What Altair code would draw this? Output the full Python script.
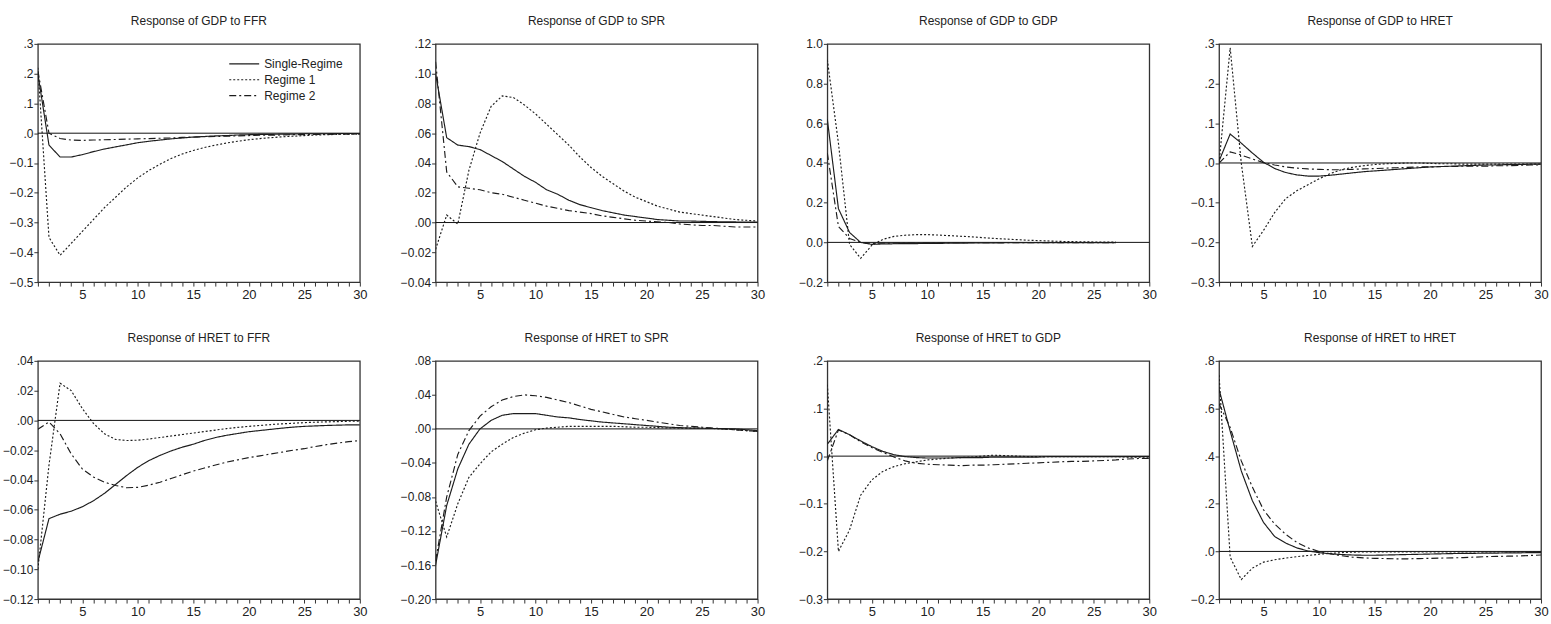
import altair as alt
import pandas as pd

FONT = "Liberation Sans"
regimes = ["Single-Regime", "Regime 1", "Regime 2"]
dash_range = [[1, 0], [2, 2], [7, 3, 2, 3]]

titles = [
    "Response of GDP to FFR", "Response of GDP to SPR",
    "Response of GDP to GDP", "Response of GDP to HRET",
    "Response of HRET to FFR", "Response of HRET to SPR",
    "Response of HRET to GDP", "Response of HRET to HRET",
]

# y tick values per panel
yticks = [
    [-0.5, -0.4, -0.3, -0.2, -0.1, 0.0, 0.1, 0.2, 0.3],
    [-0.04, -0.02, 0.0, 0.02, 0.04, 0.06, 0.08, 0.10, 0.12],
    [-0.2, 0.0, 0.2, 0.4, 0.6, 0.8, 1.0],
    [-0.3, -0.2, -0.1, 0.0, 0.1, 0.2, 0.3],
    [-0.12, -0.10, -0.08, -0.06, -0.04, -0.02, 0.0, 0.02, 0.04],
    [-0.20, -0.16, -0.12, -0.08, -0.04, 0.0, 0.04, 0.08],
    [-0.3, -0.2, -0.1, 0.0, 0.1, 0.2],
    [-0.2, 0.0, 0.2, 0.4, 0.6, 0.8],
]
ydecimals = [1, 2, 1, 1, 2, 2, 1, 1]
strip_zero = [True, True, False, True, True, True, True, True]

# ---- Response of GDP to FFR
gdp_ffr_single = [0.20, -0.04, -0.08, -0.080, -0.072, -0.062, -0.053, -0.046, -0.039, -0.032,
                  -0.027, -0.023, -0.019, -0.016, -0.013, -0.011, -0.009, -0.008, -0.006, -0.005,
                  -0.004, -0.004, -0.003, -0.003, -0.002, -0.002, -0.002, -0.001, -0.001, -0.001]
gdp_ffr_r1 = [0.22, -0.35, -0.41, -0.37, -0.33, -0.29, -0.25, -0.215, -0.18, -0.15,
              -0.125, -0.104, -0.085, -0.070, -0.058, -0.048, -0.040, -0.033, -0.027, -0.022,
              -0.018, -0.015, -0.012, -0.010, -0.008, -0.006, -0.005, -0.004, -0.003, -0.003]
gdp_ffr_r2 = [0.21, 0.00, -0.018, -0.023, -0.024, -0.023, -0.022, -0.021, -0.020, -0.019,
              -0.018, -0.017, -0.016, -0.014, -0.013, -0.012, -0.011, -0.010, -0.009, -0.008,
              -0.007, -0.007, -0.006, -0.005, -0.005, -0.004, -0.004, -0.003, -0.003, -0.003]

# ---- Response of GDP to SPR
gdp_spr_single = [0.100, 0.057, 0.052, 0.051, 0.049, 0.045, 0.041, 0.036, 0.031, 0.027,
                  0.022, 0.019, 0.015, 0.012, 0.010, 0.008, 0.0065, 0.005, 0.004, 0.003,
                  0.002, 0.0015, 0.001, 0.001, 0.0008, 0.0006, 0.0005, 0.0004, 0.0003, 0.0003]
gdp_spr_r1 = [-0.018, 0.005, -0.001, 0.035, 0.060, 0.078, 0.085, 0.084, 0.079, 0.073,
              0.066, 0.059, 0.052, 0.044, 0.037, 0.031, 0.026, 0.021, 0.017, 0.014,
              0.011, 0.009, 0.007, 0.006, 0.005, 0.004, 0.003, 0.002, 0.0015, 0.001]
gdp_spr_r2 = [0.108, 0.034, 0.024, 0.023, 0.022, 0.020, 0.019, 0.017, 0.015, 0.013,
              0.011, 0.0095, 0.008, 0.007, 0.006, 0.0045, 0.0035, 0.0025, 0.0015, 0.001,
              0.0005, 0.0, -0.001, -0.0015, -0.002, -0.002, -0.0025, -0.003, -0.003, -0.003]

# ---- Response of GDP to GDP (27 horizons drawn)
gdp_gdp_single = [0.62, 0.17, 0.05, 0.0, -0.010, -0.008, -0.007, -0.006, -0.006, -0.005,
                  -0.005, -0.004, -0.004, -0.003, -0.003, -0.003, -0.002, -0.002, -0.002, -0.002,
                  -0.001, -0.001, -0.001, -0.001, -0.001, -0.001, -0.001]
gdp_gdp_r1 = [0.92, 0.50, -0.01, -0.08, -0.015, 0.015, 0.030, 0.036, 0.039, 0.039,
              0.037, 0.034, 0.031, 0.028, 0.024, 0.020, 0.017, 0.014, 0.011, 0.009,
              0.007, 0.005, 0.004, 0.003, 0.002, 0.001, 0.001]
gdp_gdp_r2 = [0.45, 0.08, 0.02, 0.0, -0.005, -0.004, -0.004, -0.003, -0.003, -0.003,
              -0.003, -0.002, -0.002, -0.002, -0.002, -0.002, -0.001, -0.001, -0.001, -0.001,
              -0.001, -0.001, -0.001, -0.001, -0.001, -0.001, -0.001]

# ---- Response of GDP to HRET
gdp_hret_single = [0.005, 0.073, 0.050, 0.025, 0.002, -0.014, -0.024, -0.030, -0.033, -0.033,
                   -0.031, -0.028, -0.025, -0.022, -0.020, -0.018, -0.016, -0.014, -0.012, -0.010,
                   -0.009, -0.008, -0.007, -0.006, -0.005, -0.005, -0.004, -0.004, -0.003, -0.003]
gdp_hret_r1 = [0.0, 0.29, 0.0, -0.21, -0.17, -0.125, -0.09, -0.07, -0.055, -0.04,
               -0.027, -0.017, -0.011, -0.007, -0.004, -0.002, -0.001, 0.0, 0.0, -0.001,
               -0.002, -0.002, -0.003, -0.003, -0.003, -0.003, -0.003, -0.003, -0.003, -0.003]
gdp_hret_r2 = [0.0, 0.028, 0.020, 0.010, 0.001, -0.005, -0.010, -0.013, -0.015, -0.016,
               -0.017, -0.017, -0.016, -0.015, -0.014, -0.013, -0.012, -0.011, -0.010, -0.010,
               -0.009, -0.009, -0.008, -0.008, -0.008, -0.007, -0.007, -0.006, -0.005, -0.005]

# ---- Response of HRET to FFR
hret_ffr_single = [-0.095, -0.066, -0.063, -0.061, -0.058, -0.054, -0.049, -0.043, -0.037, -0.0315,
                   -0.027, -0.0235, -0.0205, -0.018, -0.016, -0.0135, -0.0115, -0.010, -0.0088, -0.0076,
                   -0.0068, -0.006, -0.0052, -0.0045, -0.004, -0.0037, -0.0034, -0.0032, -0.003, -0.003]
hret_ffr_r1 = [-0.100, -0.030, 0.025, 0.020, 0.008, -0.002, -0.009, -0.0128, -0.0135, -0.0133,
               -0.0125, -0.0115, -0.0105, -0.0095, -0.0085, -0.0075, -0.0065, -0.0055, -0.0047, -0.004,
               -0.0034, -0.0028, -0.0023, -0.0019, -0.0015, -0.0012, -0.001, -0.0008, -0.0006, -0.0005]
hret_ffr_r2 = [-0.006, -0.001, -0.009, -0.0225, -0.0326, -0.038, -0.0415, -0.0437, -0.0452, -0.045,
               -0.0435, -0.0415, -0.039, -0.0365, -0.034, -0.032, -0.030, -0.028, -0.0265, -0.025,
               -0.0238, -0.0225, -0.0213, -0.020, -0.019, -0.0175, -0.0163, -0.0152, -0.0143, -0.0135]

# ---- Response of HRET to SPR
hret_spr_single = [-0.160, -0.090, -0.047, -0.018, 0.000, 0.010, 0.016, 0.018, 0.018, 0.018,
                   0.016, 0.014, 0.013, 0.011, 0.0095, 0.008, 0.007, 0.006, 0.005, 0.004,
                   0.003, 0.002, 0.0015, 0.001, 0.0008, 0.0005, 0.0003, 0.0, -0.001, -0.002]
hret_spr_r1 = [-0.085, -0.127, -0.088, -0.057, -0.041, -0.027, -0.018, -0.010, -0.005, -0.001,
               0.001, 0.002, 0.003, 0.003, 0.003, 0.003, 0.003, 0.0025, 0.002, 0.002,
               0.0015, 0.0012, 0.001, 0.001, 0.0008, 0.0005, 0.0, -0.001, -0.002, -0.003]
hret_spr_r2 = [-0.155, -0.080, -0.030, -0.002, 0.015, 0.026, 0.034, 0.038, 0.040, 0.039,
               0.037, 0.034, 0.031, 0.027, 0.023, 0.020, 0.017, 0.014, 0.012, 0.010,
               0.008, 0.006, 0.004, 0.003, 0.002, 0.001, 0.0, -0.001, -0.002, -0.003]

# ---- Response of HRET to GDP
hret_gdp_single = [0.025, 0.056, 0.045, 0.032, 0.020, 0.010, 0.003, -0.001, -0.003, -0.004,
                   -0.004, -0.004, -0.003, -0.003, -0.003, -0.002, -0.002, -0.002, -0.002, -0.002,
                   -0.001, -0.001, -0.001, -0.001, -0.001, -0.001, -0.001, -0.001, -0.001, -0.001]
hret_gdp_r1 = [0.150, -0.200, -0.155, -0.082, -0.050, -0.032, -0.022, -0.016, -0.012, -0.008,
               -0.006, -0.004, -0.003, -0.002, 0.000, 0.002, 0.001, 0.000, -0.001, -0.001,
               -0.001, -0.001, -0.001, -0.001, -0.001, -0.001, -0.001, -0.002, -0.002, -0.002]
hret_gdp_r2 = [-0.010, 0.055, 0.045, 0.030, 0.018, 0.008, -0.002, -0.010, -0.015, -0.017,
               -0.018, -0.019, -0.020, -0.019, -0.019, -0.018, -0.017, -0.016, -0.015, -0.014,
               -0.013, -0.012, -0.011, -0.011, -0.010, -0.009, -0.008, -0.006, -0.005, -0.005]

# ---- Response of HRET to HRET
hret_hret_single = [0.68, 0.505, 0.338, 0.213, 0.122, 0.063, 0.035, 0.015, 0.002, -0.005,
                    -0.010, -0.013, -0.015, -0.016, -0.016, -0.015, -0.014, -0.013, -0.012, -0.011,
                    -0.010, -0.009, -0.008, -0.008, -0.007, -0.007, -0.006, -0.006, -0.005, -0.005]
hret_hret_r1 = [0.74, -0.024, -0.118, -0.070, -0.045, -0.035, -0.028, -0.022, -0.017, -0.012,
                -0.008, -0.005, -0.003, -0.002, -0.002, -0.002, -0.002, -0.002, -0.002, -0.002,
                -0.002, -0.002, -0.002, -0.002, -0.002, -0.002, -0.002, -0.002, -0.002, -0.002]
hret_hret_r2 = [0.62, 0.52, 0.38, 0.27, 0.175, 0.115, 0.072, 0.038, 0.015, 0.0,
                -0.010, -0.018, -0.024, -0.027, -0.029, -0.030, -0.031, -0.031, -0.030, -0.029,
                -0.028, -0.027, -0.026, -0.024, -0.022, -0.021, -0.020, -0.019, -0.017, -0.015]

series = [
    (gdp_ffr_single, gdp_ffr_r1, gdp_ffr_r2),
    (gdp_spr_single, gdp_spr_r1, gdp_spr_r2),
    (gdp_gdp_single, gdp_gdp_r1, gdp_gdp_r2),
    (gdp_hret_single, gdp_hret_r1, gdp_hret_r2),
    (hret_ffr_single, hret_ffr_r1, hret_ffr_r2),
    (hret_spr_single, hret_spr_r1, hret_spr_r2),
    (hret_gdp_single, hret_gdp_r1, hret_gdp_r2),
    (hret_hret_single, hret_hret_r1, hret_hret_r2),
]

x_ticks = list(range(1, 31))
PW, PH = 323, 239
LINE = "#1c1c1c"


def panel(i):
    rows = []
    for name, vals in zip(regimes, series[i]):
        for h, v in enumerate(vals, start=1):
            rows.append({"h": h, "v": v, "regime": name})
    df = pd.DataFrame(rows)
    ticks = yticks[i]
    dec = ydecimals[i]
    if strip_zero[i]:
        lab = "replace(format(datum.value, '.%df'), regexp('^(-?)0\\\\.'), '$1.')" % dec
    else:
        lab = "format(datum.value, '.%df')" % dec

    if i == 0:
        # long horizontal stroke symbol drawn from a small symbol size
        legend = alt.Legend(
            title=None, orient="none", legendX=201, legendY=14,
            symbolType="M-5,0H5", symbolSize=36, symbolStrokeColor=LINE,
            symbolFillColor="transparent",
            symbolStrokeWidth=1.2, labelFont=FONT, labelFontSize=12,
            labelColor="#222", labelOffset=14, rowPadding=4, padding=0,
        )
    else:
        legend = None

    xaxis = alt.Axis(values=x_ticks, title=None, grid=False, domain=False,
                     tickSize=4, tickColor="#333", labelPadding=2,
                     labelFont=FONT, labelFontSize=13, labelColor="#222",
                     labelExpr="datum.value % 5 == 0 ? datum.label : ''",
                     labelFlush=False, labelOverlap=False)
    yaxis = alt.Axis(values=ticks, title=None, grid=False, domain=False,
                     tickSize=4, tickColor="#333", labelPadding=1,
                     labelFont=FONT, labelFontSize=12, labelColor="#222",
                     labelExpr=lab, labelFlush=False, labelOverlap=False,
                     minExtent=30, maxExtent=30)
    yscale = alt.Scale(domain=[ticks[0], ticks[-1]], nice=False, zero=False)

    lines = alt.Chart(df).mark_line(strokeWidth=1.15, color=LINE, clip=True).encode(
        x=alt.X("h:Q", scale=alt.Scale(domain=[1, 30], nice=False, zero=False), axis=xaxis),
        y=alt.Y("v:Q", scale=yscale, axis=yaxis),
        strokeDash=alt.StrokeDash("regime:N",
                                  scale=alt.Scale(domain=regimes, range=dash_range),
                                  legend=legend),
    )
    zero = alt.Chart(pd.DataFrame({"v": [0.0]})).mark_rule(
        color="#111", strokeWidth=1).encode(y=alt.Y("v:Q", scale=yscale, axis=yaxis))
    return alt.layer(zero, lines).properties(
        width=PW, height=PH,
        title=alt.TitleParams(titles[i], font=FONT, fontSize=12, fontWeight="normal",
                              color="#222", offset=1, baseline="alphabetic", anchor="middle"),
    )


row1 = alt.hconcat(*[panel(i) for i in range(4)], spacing=31).resolve_scale(
    strokeDash="independent").resolve_legend(strokeDash="independent")
row2 = alt.hconcat(*[panel(i) for i in range(4, 8)], spacing=31).resolve_scale(
    strokeDash="independent").resolve_legend(strokeDash="independent")

chart = alt.vconcat(row1, row2, spacing=29).resolve_scale(
    strokeDash="independent").resolve_legend(strokeDash="independent").properties(
    padding={"left": 1, "top": 13, "right": 2, "bottom": 2},
    background="white",
).configure_view(stroke="#333", strokeWidth=1.3)

chart.save("out.html", embed_options={"renderer": "svg", "actions": False})
